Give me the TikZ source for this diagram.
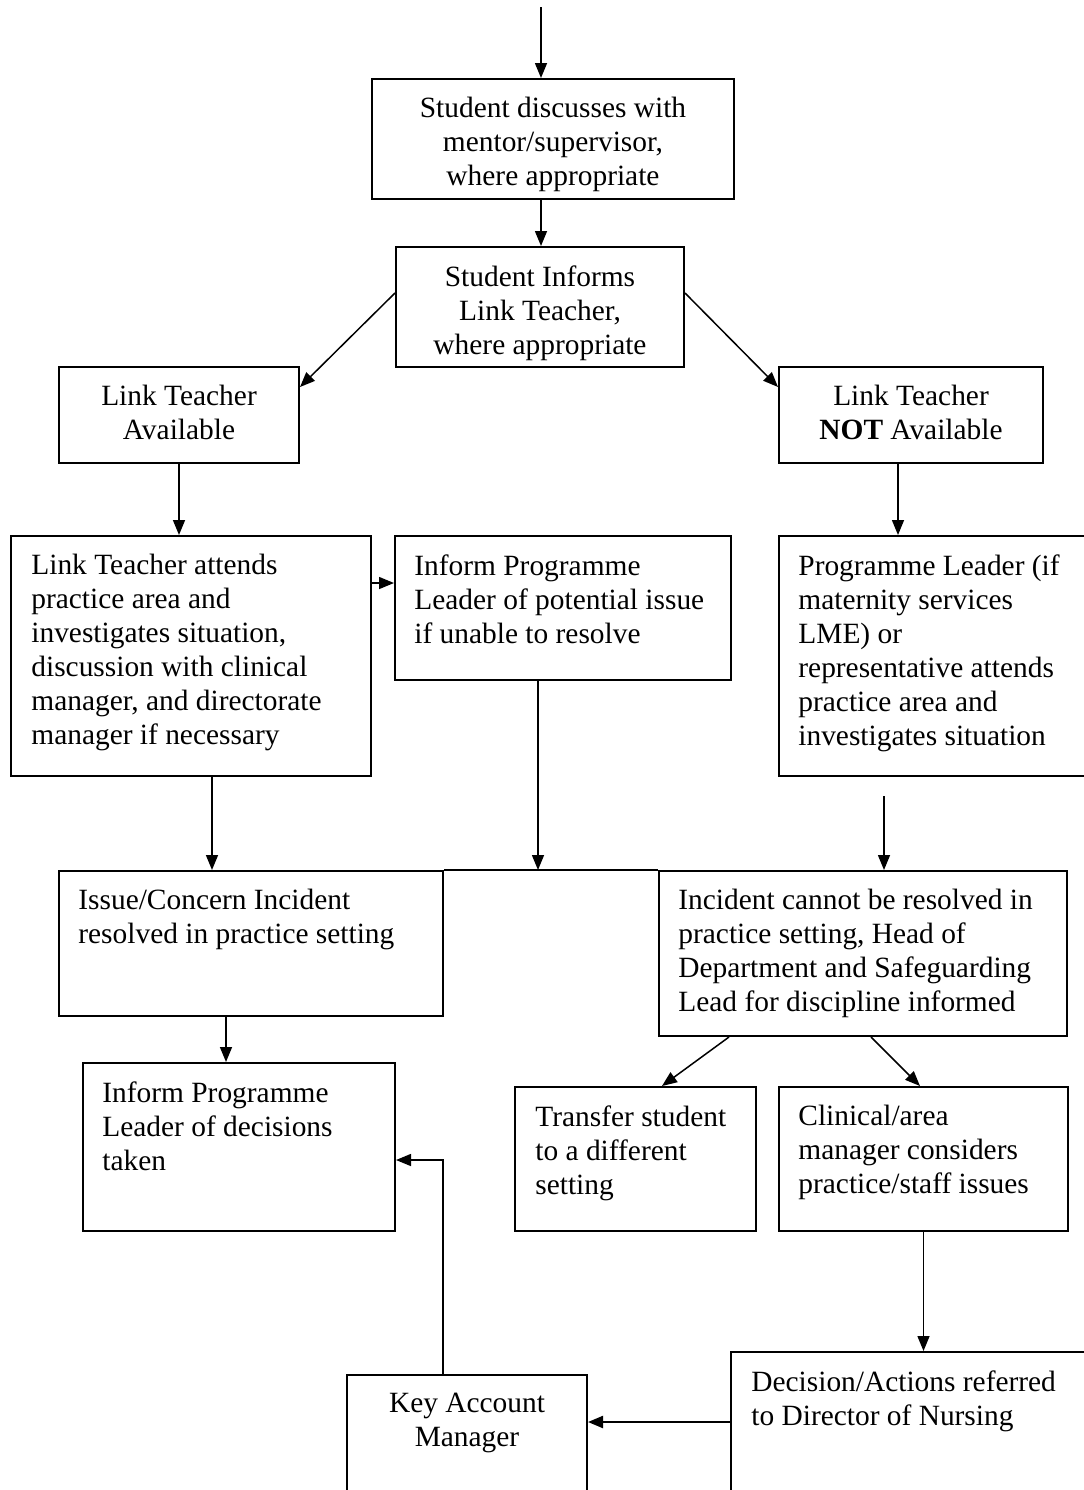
\documentclass[tikz,border=0pt]{standalone}
\usepackage{fontspec}
\setmainfont{Liberation Serif}
\usepackage{tikz}
\usetikzlibrary{arrows.meta,positioning,calc}

\begin{document}
\begin{tikzpicture}[
    x=0.5pt, y=-0.5pt,
    box/.style={rectangle, draw, line width=1pt, anchor=north west, inner sep=0pt},
    txt/.style={inner sep=0pt, font=\fontsize{14.7}{17}\selectfont},
    ltxt/.style={txt, anchor=north west, align=left},
    ctxt/.style={txt, anchor=north, align=center},
    arrow/.style={-{Triangle[length=7.5pt,width=6pt]}, line width=0.75pt}
]
\useasboundingbox (0,0) rectangle (1083,1490);

% Top row
\node[box, minimum width=181pt, minimum height=60pt] (discuss) at (371,78) {};
\node[ctxt] (discusstxt) at ([shift={(0,19)}]discuss.north) {Student discusses with\\mentor/supervisor,\\where appropriate};
\node[box, minimum width=144pt, minimum height=60pt] (informs) at (395,246) {};
\node[ctxt] (informstxt) at ([shift={(0,19)}]informs.north) {Student Informs\\Link Teacher,\\where appropriate};

% Availability
\node[box, minimum width=120pt, minimum height=48pt] (avail) at (58,366) {};
\node[ctxt] (availtxt) at ([shift={(0,19)}]avail.north) {Link Teacher\\Available};
\node[box, minimum width=132pt, minimum height=48pt] (notavail) at (778,366) {};
\node[ctxt] (notavailtxt) at ([shift={(0,19)}]notavail.north) {Link Teacher\\\textbf{NOT} Available};

% Investigation
\node[box, minimum width=180pt, minimum height=120pt] (attend) at (10,535) {};
\node[ltxt] (attendtxt) at ([shift={(21,19)}]attend.north west) {Link Teacher attends\\practice area and\\investigates situation,\\discussion with clinical\\manager, and directorate\\manager if necessary};
\node[box, minimum width=168pt, minimum height=72pt] (potential) at (394,535) {};
\node[ltxt] (potentialtxt) at ([shift={(20,19)}]potential.north west) {Inform Programme\\Leader of potential issue\\if unable to resolve};
\node[box, minimum width=160pt, minimum height=120pt] (progleader) at (778,535) {};
\node[ltxt] (progleadertxt) at ([shift={(20,19)}]progleader.north west) {Programme Leader (if\\maternity services\\LME) or\\representative attends\\practice area and\\investigates situation};

% Outcome
\node[box, minimum width=192pt, minimum height=72.5pt] (resolved) at (58,870) {};
\node[ltxt] (resolvedtxt) at ([shift={(20,19)}]resolved.north west) {Issue/Concern Incident\\resolved in practice setting};
\node[box, minimum width=204pt, minimum height=82.5pt] (cannot) at (658,870) {};
\node[ltxt] (cannottxt) at ([shift={(20,19)}]cannot.north west) {Incident cannot be resolved in\\practice setting, Head of\\Department and Safeguarding\\Lead for discipline informed};

% Follow-up
\node[box, minimum width=156pt, minimum height=84pt] (decided) at (82,1062) {};
\node[ltxt] (decidedtxt) at ([shift={(20,19)}]decided.north west) {Inform Programme\\Leader of decisions\\taken};
\node[box, minimum width=120.5pt, minimum height=72pt] (transfer) at (514,1086) {};
\node[ltxt] (transfertxt) at ([shift={(21,19)}]transfer.north west) {Transfer student\\to a different\\setting};
\node[box, minimum width=144.5pt, minimum height=72pt] (clinical) at (778,1086) {};
\node[ltxt] (clinicaltxt) at ([shift={(20,19)}]clinical.north west) {Clinical/area\\manager considers\\practice/staff issues};

% Bottom
\node[box, minimum width=182pt, minimum height=90pt] (nursing) at (730,1351) {};
\node[ltxt] (nursingtxt) at ([shift={(21,19)}]nursing.north west) {Decision/Actions referred\\to Director of Nursing};
\node[box, minimum width=120pt, minimum height=80pt] (keyacc) at (346,1374) {};
\node[ctxt] (keyacctxt) at ([shift={(0,19)}]keyacc.north) {Key Account\\Manager};

% Columns for arrows
\coordinate (topcol) at (541,7);
\coordinate (nacol) at (898,0);
\coordinate (atcol) at (212,0);
\coordinate (pocol) at (538,0);
\coordinate (gap) at (884,796);
\coordinate (recol) at (226,0);

% Arrows
\draw[arrow] (topcol) -- (topcol |- discuss.north);
\draw[arrow] (topcol |- discuss.south) -- (topcol |- informs.north);
\draw[arrow] ([shift={(0,47)}]informs.north west) -- ([shift={(0,21)}]avail.north east);
\draw[arrow] ([shift={(0,47)}]informs.north east) -- ([shift={(0,21)}]notavail.north west);
\draw[arrow] (avail.south) -- (avail.south |- attend.north);
\draw[arrow] (nacol |- notavail.south) -- (nacol |- progleader.north);
\draw[arrow] ([shift={(0,48)}]attend.north east) -- ([shift={(0,48)}]potential.north west);
\draw[arrow] (atcol |- attend.south) -- (atcol |- resolved.north);
\draw[arrow] (pocol |- potential.south) -- (pocol |- resolved.north);
\draw[arrow] (gap) -- (gap |- cannot.north);
\draw[line width=0.75pt] (resolved.north east) -- (cannot.north west);
\draw[arrow] (recol |- resolved.south) -- (recol |- decided.north);
\draw[arrow] ([shift={(71,0)}]cannot.south west) -- ([shift={(148,0)}]transfer.north west);
\draw[arrow] ([shift={(213,0)}]cannot.south west) -- ([shift={(142,0)}]clinical.north west);
\draw[arrow] (clinical.south) -- (clinical.south |- nursing.north);
\draw[arrow, line width=1.1pt] ([shift={(0,71)}]nursing.north west) -- ([shift={(0,48)}]keyacc.north east);
\draw[arrow] ([shift={(-24,0)}]keyacc.north) |- ([shift={(0,98)}]decided.north east);

\end{tikzpicture}
\end{document}
